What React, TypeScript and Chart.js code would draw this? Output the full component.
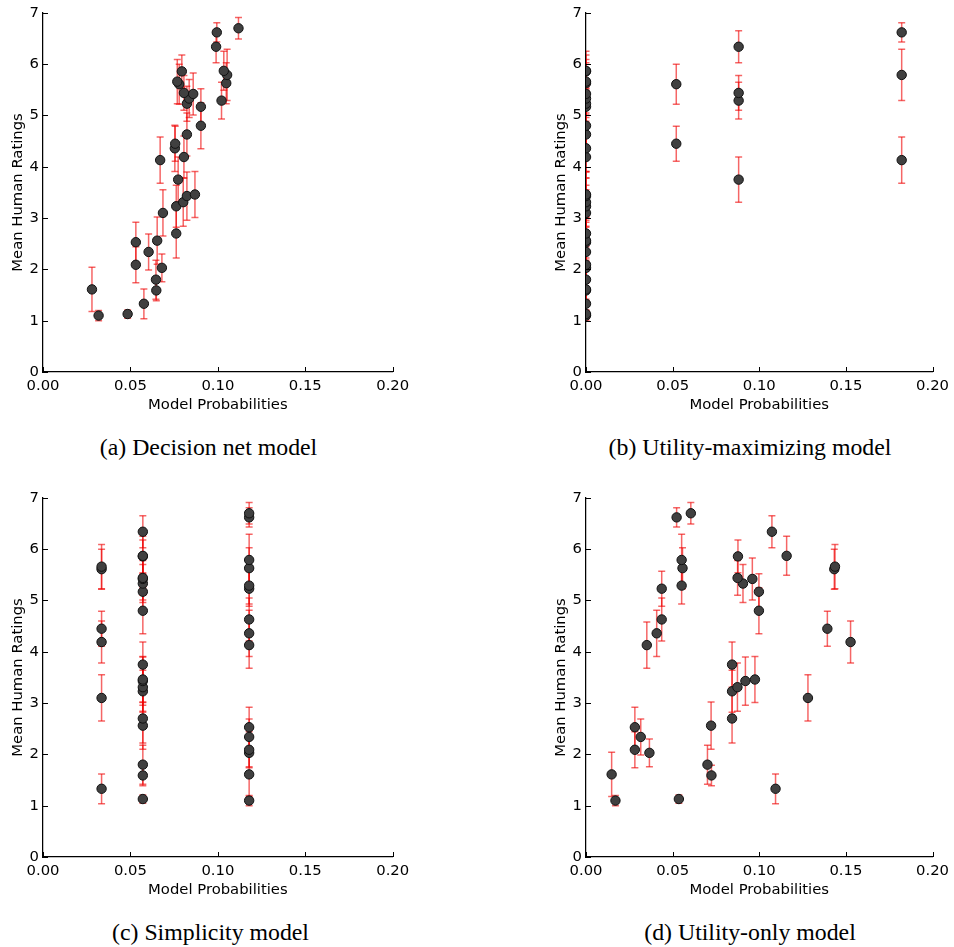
import { useEffect, useRef } from "react";
import { Chart, registerables } from "chart.js";
Chart.register(...registerables);

// Mean human ratings (shared by all four panels) and their error half-widths
const meanRatings = [1.10, 1.13, 1.33, 1.59, 1.61, 1.80, 2.03, 2.09, 2.34, 2.53, 2.56, 2.70, 3.10, 3.23, 3.31, 3.43, 3.46, 3.75, 4.13, 4.19, 4.36, 4.45, 4.63, 4.80, 5.17, 5.23, 5.29, 5.33, 5.42, 5.44, 5.61, 5.63, 5.66, 5.79, 5.86, 5.87, 6.34, 6.62, 6.70];
const ratingErrors = [0.10, 0.08, 0.29, 0.20, 0.43, 0.38, 0.27, 0.35, 0.35, 0.39, 0.46, 0.48, 0.45, 0.41, 0.47, 0.47, 0.45, 0.44, 0.45, 0.41, 0.45, 0.34, 0.42, 0.45, 0.35, 0.34, 0.36, 0.37, 0.41, 0.34, 0.39, 0.40, 0.43, 0.50, 0.32, 0.38, 0.31, 0.19, 0.21];

// Model probabilities for each item, per model
const decisionNetProbs = [0.0318, 0.0484, 0.0577, 0.0648, 0.0280, 0.0646, 0.0680, 0.0531, 0.0604, 0.0531, 0.0653, 0.0762, 0.0686, 0.0762, 0.0802, 0.0823, 0.0869, 0.0773, 0.0670, 0.0806, 0.0754, 0.0756, 0.0823, 0.0903, 0.0903, 0.0823, 0.1021, 0.0836, 0.0859, 0.0806, 0.0779, 0.1048, 0.0768, 0.1053, 0.0794, 0.1034, 0.0990, 0.0994, 0.1118];
// last item lies beyond the plotted range (not visible in the panel)
const utilityMaxProbs = [0, 0, 0, 0, 0, 0, 0, 0, 0, 0, 0, 0, 0, 0, 0, 0, 0, 0.0881, 0.1822, 0, 0, 0.0521, 0, 0, 0, 0, 0.0881, 0, 0, 0.0881, 0.0521, 0, 0, 0.1822, 0, 0, 0.0881, 0.1822, 0.25];
const simplicityProbs = [0.1179, 0.0571, 0.0335, 0.0571, 0.1179, 0.0571, 0.1179, 0.1179, 0.1179, 0.1179, 0.0571, 0.0571, 0.0335, 0.0571, 0.0571, 0.0571, 0.0571, 0.0571, 0.1179, 0.0335, 0.1179, 0.0335, 0.1179, 0.0571, 0.0571, 0.1179, 0.1179, 0.0571, 0.0571, 0.0571, 0.0335, 0.1179, 0.0335, 0.1179, 0.0571, 0.0571, 0.0571, 0.1179, 0.1179];
const utilityOnlyProbs = [0.0170, 0.0536, 0.1094, 0.0724, 0.0148, 0.0701, 0.0366, 0.0282, 0.0316, 0.0282, 0.0722, 0.0843, 0.1281, 0.0843, 0.0874, 0.0920, 0.0975, 0.0843, 0.0351, 0.1527, 0.0408, 0.1393, 0.0437, 0.0998, 0.0998, 0.0437, 0.0552, 0.0906, 0.0960, 0.0875, 0.1433, 0.0557, 0.1437, 0.0552, 0.0877, 0.1158, 0.1073, 0.0523, 0.0605];

const xTickValues = [0, 0.05, 0.1, 0.15, 0.2];
const yTickValues = [0, 1, 2, 3, 4, 5, 6, 7];
const xAxisTitle = "Model Probabilities";
const yAxisTitle = "Mean Human Ratings";
const captions = ["(a) Decision net model", "(b) Utility-maximizing model", "(c) Simplicity model", "(d) Utility-only model"];

const FONT = "'DejaVu Sans', sans-serif";
const FS = 14.8;

type PanelProps = { probs: number[]; left: number; top: number; width: number; height: number };

const errorBarPlugin = {
  id: "errorBars",
  beforeDatasetsDraw(chart: any, _args: any, opts: any) {
    const { ctx, chartArea, scales } = chart;
    const probs: number[] = opts.probs;
    ctx.save();
    ctx.beginPath();
    ctx.rect(chartArea.left, chartArea.top, chartArea.right - chartArea.left, chartArea.bottom - chartArea.top);
    ctx.clip();
    ctx.strokeStyle = "rgba(238,0,0,0.6)";
    ctx.lineWidth = 1.5;
    for (let i = 0; i < probs.length; i++) {
      const x = scales.x.getPixelForValue(probs[i]);
      const y1 = scales.y.getPixelForValue(meanRatings[i] + ratingErrors[i]);
      const y2 = scales.y.getPixelForValue(meanRatings[i] - ratingErrors[i]);
      ctx.beginPath();
      ctx.moveTo(x, y1);
      ctx.lineTo(x, y2);
      ctx.stroke();
      ctx.beginPath();
      ctx.moveTo(x - 3.5, y1);
      ctx.lineTo(x + 3.5, y1);
      ctx.stroke();
      ctx.beginPath();
      ctx.moveTo(x - 3.5, y2);
      ctx.lineTo(x + 3.5, y2);
      ctx.stroke();
    }
    ctx.restore();
  },
};

const tickMarkPlugin = {
  id: "tickMarks",
  afterDraw(chart: any) {
    const { ctx, chartArea, scales } = chart;
    ctx.save();
    ctx.strokeStyle = "#000";
    ctx.lineWidth = 1;
    for (const v of xTickValues) {
      const x = Math.round(scales.x.getPixelForValue(v)) + 0.5;
      ctx.beginPath();
      ctx.moveTo(x, chartArea.bottom);
      ctx.lineTo(x, chartArea.bottom - 5);
      ctx.stroke();
    }
    for (const v of yTickValues) {
      const y = Math.round(scales.y.getPixelForValue(v)) + 0.5;
      ctx.beginPath();
      ctx.moveTo(chartArea.left, y);
      ctx.lineTo(chartArea.left + 5, y);
      ctx.stroke();
    }
    ctx.restore();
  },
};

function Panel({ probs, left, top, width, height }: PanelProps) {
  const ref = useRef<HTMLCanvasElement | null>(null);
  useEffect(() => {
    if (!ref.current) return;
    const font = { family: FONT, size: FS };
    const chart = new Chart(ref.current, {
      type: "scatter",
      data: {
        datasets: [
          {
            data: probs.map((x, i) => ({ x, y: meanRatings[i] })),
            pointRadius: 4.7,
            pointBackgroundColor: "#404040",
            pointBorderColor: "#111",
            pointBorderWidth: 1,
            clip: 0,
          } as any,
        ],
      },
      options: {
        animation: false,
        responsive: false,
        events: [],
        layout: { padding: { left: 0, top: 11.7, right: width - 392.7, bottom: 0 } },
        plugins: {
          legend: { display: false },
          tooltip: { enabled: false },
          errorBars: { probs },
        } as any,
        scales: {
          x: {
            type: "linear",
            min: 0,
            max: 0.2,
            z: 1,
            afterBuildTicks: (s: any) => {
              s.ticks = xTickValues.map((v) => ({ value: v }));
            },
            afterFit: (s: any) => {
              s.height = height - 372;
            },
            ticks: {
              font,
              color: "#000",
              padding: 5,
              maxRotation: 0,
              autoSkip: false,
              callback: (v: any) => Number(v).toFixed(2),
            },
            grid: { display: false, drawTicks: false },
            border: { display: true, color: "#000", width: 1.25 },
            title: { display: true, text: xAxisTitle, font, color: "#000", padding: { top: 0, bottom: 6.1 } },
          },
          y: {
            type: "linear",
            min: 0,
            max: 7,
            z: 1,
            afterBuildTicks: (s: any) => {
              s.ticks = yTickValues.map((v) => ({ value: v }));
            },
            afterFit: (s: any) => {
              s.width = 43;
            },
            ticks: {
              font,
              color: "#000",
              padding: 4,
              autoSkip: false,
              callback: (v: any) => String(v),
            },
            grid: { display: false, drawTicks: false },
            border: { display: true, color: "#000", width: 1.25 },
            title: { display: true, text: yAxisTitle, font, color: "#000", padding: { top: 9, bottom: 0 } },
          },
        },
      } as any,
      plugins: [errorBarPlugin, tickMarkPlugin],
    });
    return () => chart.destroy();
  }, [probs, width, height]);
  return (
    <canvas
      ref={ref}
      width={width}
      height={height}
      style={{ position: "absolute", left, top, width, height }}
    />
  );
}

function Caption({ text, center, baselineTop }: { text: string; center: number; baselineTop: number }) {
  return (
    <div
      style={{
        position: "absolute",
        left: center - 200,
        width: 400,
        top: baselineTop,
        textAlign: "center",
        fontFamily: "'Liberation Serif', 'Times New Roman', serif",
        fontSize: 23.8,
        lineHeight: 1,
        color: "#000",
        whiteSpace: "nowrap",
      }}
    >
      {text}
    </div>
  );
}

export default function App() {
  return (
    <div
      style={{
        position: "absolute",
        left: 0,
        top: 0,
        width: 954,
        height: 947,
        overflow: "hidden",
        background: "#fff",
      }}
    >
      <Panel probs={decisionNetProbs} left={0} top={0} width={477} height={420} />
      <Panel probs={utilityMaxProbs} left={543} top={0} width={411} height={420} />
      <Panel probs={simplicityProbs} left={0} top={485} width={477} height={420} />
      <Panel probs={utilityOnlyProbs} left={543} top={485} width={411} height={420} />
      <Caption text={captions[0]} center={208.5} baselineTop={436} />
      <Caption text={captions[1]} center={750} baselineTop={436} />
      <Caption text={captions[2]} center={210.5} baselineTop={921} />
      <Caption text={captions[3]} center={750} baselineTop={921} />
    </div>
  );
}
